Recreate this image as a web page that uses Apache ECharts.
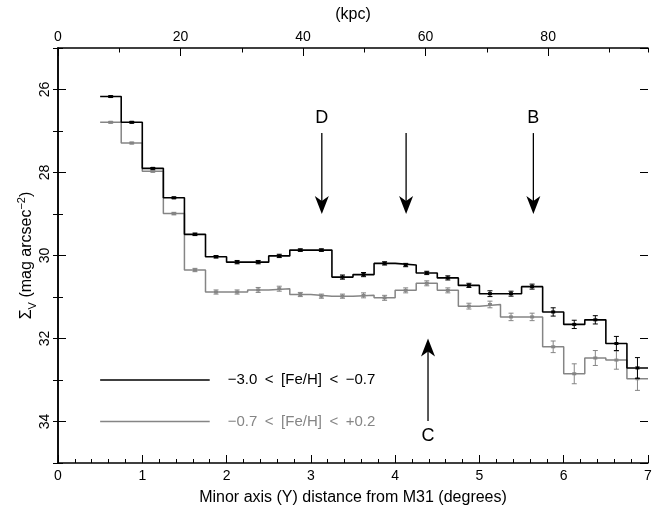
<!DOCTYPE html>
<html>
<head>
<meta charset="utf-8">
<script src="https://cdn.jsdelivr.net/npm/echarts@6/dist/echarts.min.js"></script>
<style>
  html, body { margin: 0; padding: 0; background: #fff; }
  #chart { width: 662px; height: 515px; }
</style>
</head>
<body>
<div id="chart"></div>
<script>
// Minor-axis V-band surface brightness of M31's halo, in 0.25 degree bins,
// split into a metal-poor and a metal-rich population.
const binCenters = [0.625, 0.875, 1.125, 1.375, 1.625, 1.875, 2.125, 2.375, 2.625, 2.875,
                    3.125, 3.375, 3.625, 3.875, 4.125, 4.375, 4.625, 4.875, 5.125, 5.375,
                    5.625, 5.875, 6.125, 6.375, 6.625, 6.875];

// -3.0 < [Fe/H] < -0.7
const metalPoor = [26.17, 26.79, 27.90, 28.61, 29.49, 30.03, 30.16, 30.16, 30.01, 29.87,
                   29.87, 30.52, 30.46, 30.19, 30.23, 30.42, 30.54, 30.72, 30.92, 30.92,
                   30.75, 31.36, 31.66, 31.55, 32.12, 32.71];
const metalPoorErr = [0.02, 0.02, 0.02, 0.02, 0.03, 0.03, 0.04, 0.04, 0.04, 0.03,
                      0.03, 0.05, 0.05, 0.04, 0.04, 0.04, 0.05, 0.05, 0.07, 0.06,
                      0.06, 0.10, 0.10, 0.10, 0.17, 0.25];

// -0.7 < [Fe/H] < +0.2
const metalRich = [26.79, 27.29, 27.97, 28.99, 30.35, 30.88, 30.88, 30.83, 30.80, 30.94,
                   30.98, 30.98, 30.96, 31.02, 30.84, 30.67, 30.84, 31.22, 31.18, 31.48,
                   31.48, 32.20, 32.85, 32.47, 32.52, 32.97];
const metalRichErr = [0.02, 0.02, 0.02, 0.03, 0.04, 0.05, 0.05, 0.06, 0.06, 0.05,
                      0.05, 0.05, 0.06, 0.06, 0.06, 0.06, 0.06, 0.07, 0.08, 0.09,
                      0.09, 0.14, 0.24, 0.18, 0.22, 0.28];

// Tick labels
const degTickLabels = [0, 1, 2, 3, 4, 5, 6, 7];
const kpcTickLabels = [0, 20, 40, 60, 80];
const magTickLabels = [26, 28, 30, 32, 34];

// Feature markers: label, position (degrees), arrow tail and tip (mag)
const featureNames = ['D', '', 'B', 'C'];
const featureX = [3.13, 4.13, 5.64, 4.39];
const featureTail = [27.05, 27.05, 27.05, 33.99];
const featureTip = [29.0, 29.0, 29.0, 32.0];

const legendLabels = ['\u22123.0\u2002<\u2002[Fe/H]\u2002<\u2002\u22120.7',
                      '\u22120.7\u2002<\u2002[Fe/H]\u2002<\u2002+0.2'];

const KPC_PER_DEG = 13.757;
const DEG_MAX = 7;
const FONT = '"Liberation Sans", Arial, sans-serif';
const INK = '#000000';
const GREY = '#858585';

const halfBin = (binCenters[1] - binCenters[0]) / 2;

function stepData(values) {
  const pts = binCenters.map((c, i) => [c - halfBin, values[i]]);
  pts.push([binCenters[binCenters.length - 1] + halfBin, values[values.length - 1]]);
  return pts;
}

function errorBarRenderer(color) {
  return function (params, api) {
    const x = api.value(0), v = api.value(1), e = api.value(2);
    const top = api.coord([x, v - e]);
    const bot = api.coord([x, v + e]);
    const mid = api.coord([x, v]);
    const cap = 2.5;
    const st = { stroke: color, lineWidth: 1 };
    return {
      type: 'group',
      children: [
        { type: 'line', shape: { x1: top[0], y1: top[1], x2: bot[0], y2: bot[1] }, style: st },
        { type: 'line', shape: { x1: top[0] - cap, y1: top[1], x2: top[0] + cap, y2: top[1] }, style: st },
        { type: 'line', shape: { x1: bot[0] - cap, y1: bot[1], x2: bot[0] + cap, y2: bot[1] }, style: st },
        { type: 'rect', shape: { x: mid[0] - 2, y: mid[1] - 1.5, width: 4, height: 3 }, style: { fill: color } }
      ]
    };
  };
}

function arrowRenderer(params, api) {
  const i = params.dataIndex;
  const x = api.value(0);
  const tail = api.coord([x, api.value(1)]);
  const tip = api.coord([x, api.value(2)]);
  const dir = tip[1] > tail[1] ? 1 : -1;
  const headLen = 18, headHalf = 7, notch = 5;
  const children = [
    { type: 'line', shape: { x1: tail[0], y1: tail[1], x2: tip[0], y2: tip[1] - dir * 10 },
      style: { stroke: INK, lineWidth: 1.3 } },
    { type: 'polygon', shape: { points: [
        [tip[0], tip[1]],
        [tip[0] - headHalf, tip[1] - dir * headLen],
        [tip[0], tip[1] - dir * (headLen - notch)],
        [tip[0] + headHalf, tip[1] - dir * headLen]
      ] }, style: { fill: INK } }
  ];
  const name = featureNames[i];
  if (name) {
    children.push({ type: 'text', style: {
      text: name, x: tail[0], y: tail[1] - dir * 15,
      align: 'center', verticalAlign: 'middle',
      font: '18px ' + FONT, fill: INK } });
  }
  return { type: 'group', children: children };
}

function legendRenderer(params, api) {
  const i = params.dataIndex;
  const y = api.value(2);
  const a = api.coord([api.value(0), y]);
  const b = api.coord([api.value(1), y]);
  const color = i === 0 ? INK : GREY;
  return {
    type: 'group',
    children: [
      { type: 'line', shape: { x1: a[0], y1: a[1], x2: b[0], y2: b[1] },
        style: { stroke: color, lineWidth: 1.5 } },
      { type: 'text', style: { text: legendLabels[i], x: b[0] + 18, y: a[1],
        align: 'left', verticalAlign: 'middle', font: '15px ' + FONT, fill: color } }
    ]
  };
}

const frameLine = { show: true, lineStyle: { color: INK, width: 1.5 } };
const labelStyle = { color: INK, fontFamily: FONT, fontSize: 14 };

const chart = echarts.init(document.getElementById('chart'), null, { renderer: 'canvas' });

chart.setOption({
  animation: false,
  backgroundColor: '#ffffff',
  grid: { left: 58, right: 14, top: 48, bottom: 52, containLabel: false, outerBoundsMode: 'none' },
  xAxis: [
    {
      type: 'value', position: 'bottom', min: 0, max: DEG_MAX, interval: 1,
      axisLine: frameLine,
      axisTick: { show: true, inside: true, length: 8, lineStyle: { color: INK, width: 1 } },
      minorTick: { show: true, splitNumber: 5, length: 4, lineStyle: { color: INK, width: 1 } },
      axisLabel: Object.assign({ margin: 6,
        formatter: v => degTickLabels.includes(v) ? String(v) : '' }, labelStyle),
      splitLine: { show: false }, minorSplitLine: { show: false },
      name: 'Minor axis (Y) distance from M31 (degrees)',
      nameLocation: 'middle', nameGap: 27, nameMoveOverlap: false,
      nameTextStyle: { color: INK, fontFamily: FONT, fontSize: 16 }
    },
    {
      type: 'value', position: 'top', min: 0, max: DEG_MAX * KPC_PER_DEG, interval: 20,
      axisLine: frameLine,
      axisTick: { show: true, inside: true, length: 8, lineStyle: { color: INK, width: 1 } },
      axisLabel: Object.assign({ margin: 4, showMaxLabel: false,
        formatter: v => kpcTickLabels.includes(v) ? String(v) : '' }, labelStyle),
      splitLine: { show: false },
      name: '(kpc)', nameLocation: 'middle', nameGap: 25, nameMoveOverlap: false,
      nameTextStyle: { color: INK, fontFamily: FONT, fontSize: 16 }
    },
    {
      type: 'value', position: 'top', min: 0, max: DEG_MAX * KPC_PER_DEG, interval: 10,
      axisLine: { show: false },
      axisTick: { show: true, inside: true, length: 4.5, lineStyle: { color: INK, width: 1 } },
      axisLabel: { show: false }, splitLine: { show: false }
    }
  ],
  yAxis: [
    {
      type: 'value', position: 'left', inverse: true, min: 25, max: 35, interval: 1,
      axisLine: frameLine,
      axisTick: { show: true, inside: true, length: 5, lineStyle: { color: INK, width: 1 } },
      axisLabel: { show: false }, splitLine: { show: false }
    },
    {
      type: 'value', position: 'left', inverse: true, min: 25, max: 35, splitNumber: 5,
      axisLine: { show: false },
      axisTick: { show: true, inside: true, length: 8, lineStyle: { color: INK, width: 1 } },
      axisLabel: Object.assign({ margin: 6, rotate: 90, showMinLabel: false, showMaxLabel: false,
        formatter: v => magTickLabels.includes(v) ? String(v) : '' }, labelStyle),
      splitLine: { show: false },
      name: '{a|\u03A3}{b|V}{a| (mag arcsec}{c|\u22122}{a|)}',
      nameLocation: 'middle', nameGap: 20, nameMoveOverlap: false,
      nameTextStyle: {
        color: INK, fontFamily: FONT, fontSize: 16,
        rich: {
          a: { fontFamily: FONT, fontSize: 16, color: INK, lineHeight: 22, verticalAlign: 'middle' },
          b: { fontFamily: FONT, fontSize: 11, color: INK, lineHeight: 11, verticalAlign: 'bottom' },
          c: { fontFamily: FONT, fontSize: 11, color: INK, lineHeight: 11, verticalAlign: 'top' }
        }
      }
    },
    {
      type: 'value', position: 'right', inverse: true, min: 25, max: 35, interval: 1,
      axisLine: frameLine,
      axisTick: { show: true, inside: true, length: 5, lineStyle: { color: INK, width: 1 } },
      axisLabel: { show: false }, splitLine: { show: false }
    },
    {
      type: 'value', position: 'right', inverse: true, min: 25, max: 35, splitNumber: 5,
      axisLine: { show: false },
      axisTick: { show: true, inside: true, length: 8, lineStyle: { color: INK, width: 1 } },
      axisLabel: { show: false }, splitLine: { show: false }
    }
  ],
  series: [
    {
      name: 'metal-rich', type: 'line', step: 'end', xAxisIndex: 0, yAxisIndex: 0,
      data: stepData(metalRich), symbol: 'none',
      lineStyle: { color: GREY, width: 1.5 }, silent: true, z: 2
    },
    {
      name: 'metal-poor', type: 'line', step: 'end', xAxisIndex: 0, yAxisIndex: 0,
      data: stepData(metalPoor), symbol: 'none',
      lineStyle: { color: INK, width: 1.6 }, silent: true, z: 3
    },
    {
      name: 'metal-rich errors', type: 'custom', xAxisIndex: 0, yAxisIndex: 0,
      renderItem: errorBarRenderer(GREY), encode: { x: 0, y: 1 },
      data: binCenters.map((c, i) => [c, metalRich[i], metalRichErr[i]]), silent: true, z: 4
    },
    {
      name: 'metal-poor errors', type: 'custom', xAxisIndex: 0, yAxisIndex: 0,
      renderItem: errorBarRenderer(INK), encode: { x: 0, y: 1 },
      data: binCenters.map((c, i) => [c, metalPoor[i], metalPoorErr[i]]), silent: true, z: 5
    },
    {
      name: 'features', type: 'custom', xAxisIndex: 0, yAxisIndex: 0,
      renderItem: arrowRenderer, encode: { x: 0, y: 1 },
      data: featureX.map((x, i) => [x, featureTail[i], featureTip[i]]), silent: true, z: 6
    },
    {
      name: 'key', type: 'custom', xAxisIndex: 0, yAxisIndex: 0,
      renderItem: legendRenderer, encode: { x: 0, y: 2 },
      data: [[0.5, 1.8, 33.0], [0.5, 1.8, 34.0]], silent: true, z: 6
    }
  ]
});
</script>
</body>
</html>
